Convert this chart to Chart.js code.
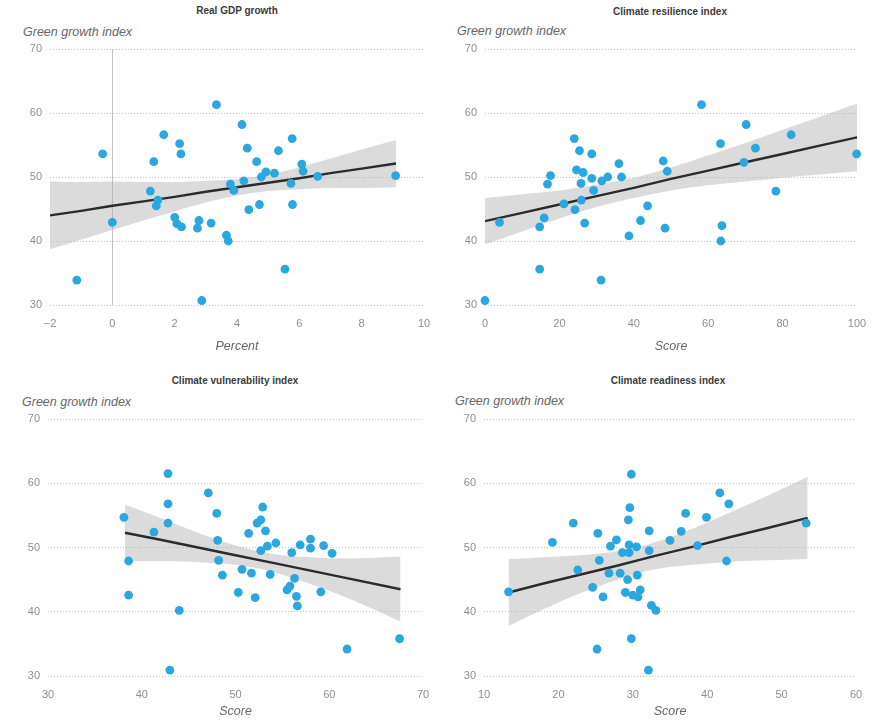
<!DOCTYPE html>
<html lang="en">
<head>
  <meta charset="UTF-8">
  <title>Green growth index and its drivers</title>
  <script src="https://cdn.jsdelivr.net/npm/chart.js"></script>
  <style>
    body { margin: 0; background: #fff; font-family: "Liberation Sans", Arial, sans-serif; }
    #wrap { position: relative; width: 887px; height: 720px; }
    canvas { position: absolute; }
    .ttl { position: absolute; font-size: 10px; line-height: 12px; font-weight: bold; color: #3a3a3a; transform: translateX(-50%); white-space: nowrap; }
    .ylab { position: absolute; font-size: 12.5px; line-height: 14px; font-style: italic; color: #666; white-space: nowrap; }
  </style>
</head>
<body>
<div id="wrap">
  <div class="ttl" style="left:237px; top:5px;">Real GDP growth</div>
  <div class="ylab" style="left:23px; top:25px;">Green growth index</div>
  <div class="ttl" style="left:670px; top:6px;">Climate resilience index</div>
  <div class="ylab" style="left:457px; top:24px;">Green growth index</div>
  <div class="ttl" style="left:235px; top:375px;">Climate vulnerability index</div>
  <div class="ylab" style="left:22px; top:395px;">Green growth index</div>
  <div class="ttl" style="left:668px; top:375px;">Climate readiness index</div>
  <div class="ylab" style="left:455px; top:394px;">Green growth index</div>

  <canvas id="c1" width="443" height="360" style="left:0; top:0;"></canvas>
  <canvas id="c2" width="444" height="360" style="left:443px; top:0;"></canvas>
  <canvas id="c3" width="443" height="360" style="left:0; top:360px;"></canvas>
  <canvas id="c4" width="444" height="360" style="left:443px; top:360px;"></canvas>
</div>

<script>
  // Real GDP growth (percent) vs green growth index
  const gdpX = [-1.14, -0.31, 0.0, 1.22, 1.33, 1.46, 1.41, 1.65, 2.0, 2.07, 2.22, 2.16, 2.2, 2.78, 2.73, 2.87,
    3.17, 3.34, 3.66, 3.72, 3.79, 3.9, 4.16, 4.22, 4.33, 4.38, 4.63, 4.72, 4.78, 4.93, 5.2, 5.33, 5.54,
    5.73, 5.77, 5.78, 6.08, 6.12, 6.59, 9.09];
  const gdpY = [33.9, 53.6, 42.9, 47.8, 52.4, 46.4, 45.5, 56.6, 43.7, 42.7, 42.2, 55.2, 53.6, 43.2, 42.0, 30.7,
    42.8, 61.3, 40.9, 40.0, 48.9, 47.9, 58.2, 49.4, 54.5, 44.9, 52.4, 45.7, 50.0, 50.8, 50.6, 54.1, 35.6,
    49.0, 56.0, 45.7, 52.0, 50.9, 50.1, 50.2];
  const gdpFitX = [-2, -1, 0, 1, 2, 3, 4, 5, 6, 7, 8, 9.1];
  const gdpFitMid = [44.0, 44.7, 45.5, 46.2, 46.9, 47.7, 48.4, 49.1, 49.8, 50.6, 51.3, 52.1];
  const gdpFitHi = [49.3, 49.2, 49.3, 49.2, 49.2, 49.4, 49.7, 50.4, 51.5, 52.9, 54.3, 55.8];
  const gdpFitLo = [38.7, 40.2, 41.7, 43.2, 44.6, 46.0, 47.1, 47.8, 48.1, 48.3, 48.3, 48.4];

  // Climate resilience index (score)
  const resX = [0, 3.9, 14.7, 15.9, 14.7, 16.8, 17.6, 21.2, 24.2, 25.9, 25.8, 26.8, 28.7, 29.2, 31.4, 33.0,
    31.2, 36.7, 38.7, 41.8, 43.7, 48.4, 49.0, 63.7, 63.4, 78.2, 24.6, 26.4, 24.0, 25.4, 28.7, 36.0, 47.9,
    58.2, 63.3, 70.2, 72.7, 69.6, 82.3, 99.9];
  const resY = [30.7, 42.9, 42.2, 43.6, 35.6, 48.9, 50.2, 45.8, 44.9, 46.4, 49.0, 42.8, 49.8, 47.9, 49.4, 50.0,
    33.9, 50.0, 40.8, 43.2, 45.5, 42.0, 50.9, 42.4, 40.0, 47.8, 51.1, 50.7, 56.0, 54.1, 53.6, 52.1, 52.5,
    61.3, 55.2, 58.2, 54.5, 52.3, 56.6, 53.6];
  const resFitX = [0, 10, 20, 30, 40, 50, 60, 70, 80, 90, 100];
  const resFitMid = [43.1, 44.4, 45.7, 47.0, 48.3, 49.7, 51.0, 52.3, 53.6, 54.9, 56.2];
  const resFitHi = [46.7, 47.3, 47.9, 48.8, 49.9, 51.5, 53.4, 55.3, 57.4, 59.4, 61.5];
  const resFitLo = [39.5, 41.5, 43.5, 45.3, 46.7, 47.9, 48.7, 49.3, 49.9, 50.4, 50.9];

  // Climate vulnerability index (score)
  const vulX = [38.6, 38.6, 41.3, 44.0, 43.0, 48.1, 48.2, 48.6, 50.3, 50.7, 51.4, 51.7, 52.1, 52.7, 53.2, 53.4,
    53.7, 54.3, 55.5, 56.0, 55.8, 56.3, 56.5, 56.6, 56.9, 58.0, 58.0, 59.1, 59.4, 60.3, 61.9, 67.5, 38.1,
    42.8, 42.8, 42.8, 47.1, 48.0, 52.9, 52.7, 52.3];
  const vulY = [47.9, 42.6, 52.4, 40.2, 30.9, 51.1, 48.0, 45.7, 43.0, 46.6, 52.2, 46.0, 42.2, 49.5, 52.6, 50.2,
    45.8, 50.7, 43.4, 49.2, 44.0, 45.2, 42.4, 40.9, 50.4, 51.3, 49.9, 43.1, 50.3, 49.1, 34.2, 35.8, 54.7,
    61.5, 56.8, 53.8, 58.5, 55.3, 56.3, 54.3, 53.8];
  const vulFitX = [38.2, 42, 46, 50, 54, 58, 62, 67.6];
  const vulFitMid = [52.3, 51.2, 50.0, 48.8, 47.6, 46.4, 45.2, 43.5];
  const vulFitHi = [56.7, 54.6, 52.3, 50.3, 49.0, 48.5, 48.3, 48.6];
  const vulFitLo = [47.9, 47.9, 47.7, 47.3, 46.2, 44.3, 42.1, 38.5];

  // Climate readiness index (score)
  const readX = [13.3, 19.2, 22.6, 24.6, 25.2, 25.5, 26.0, 26.8, 27.0, 27.8, 28.3, 28.6, 29.0, 29.3, 29.5, 29.5,
    29.8, 30.0, 30.5, 30.6, 30.7, 31.0, 32.1, 32.2, 32.2, 32.5, 33.1, 35.0, 36.5, 38.7, 42.6, 22.0, 25.3,
    29.4, 29.6, 29.8, 37.1, 39.9, 41.7, 42.9, 53.3];
  const readY = [43.1, 50.8, 46.5, 43.8, 34.2, 48.0, 42.3, 46.0, 50.2, 51.2, 46.0, 49.2, 43.0, 45.0, 50.4, 49.2,
    35.8, 42.6, 50.1, 45.7, 42.3, 43.4, 30.9, 49.5, 52.6, 41.0, 40.2, 51.1, 52.5, 50.3, 47.9, 53.8, 52.2,
    54.3, 56.2, 61.4, 55.3, 54.7, 58.5, 56.8, 53.8];
  const readFitX = [13.3, 18, 23, 28, 33, 38, 43, 48, 53.5];
  const readFitMid = [43.0, 44.4, 45.8, 47.2, 48.7, 50.1, 51.6, 53.0, 54.6];
  const readFitHi = [48.2, 48.5, 48.8, 49.4, 50.8, 52.9, 55.4, 58.0, 61.0];
  const readFitLo = [37.8, 40.4, 42.9, 45.0, 46.6, 47.3, 47.8, 48.0, 48.2];

  const yTicks = [30, 40, 50, 60, 70];

  const BLUE = '#2ba7df';
  const BAND = 'rgba(165,165,165,0.40)';
  const TICK = '#8e8e8e';
  const FONT = '"Liberation Sans", Arial, sans-serif';

  const zip = (xs, ys) => xs.map((x, i) => ({ x: x, y: ys[i] }));
  const fmt = v => v < 0 ? '\u2212' + Math.abs(v) : String(v);

  function makePanel(id, p) {
    new Chart(document.getElementById(id), {
      type: 'scatter',
      data: {
        datasets: [
          { data: zip(p.xs, p.ys), backgroundColor: BLUE, borderColor: BLUE, borderWidth: 0,
            pointRadius: 4.4, order: 0, clip: false },
          { data: zip(p.fitX, p.fitMid), showLine: true, borderColor: '#2b2b2b', borderWidth: 2.4,
            pointRadius: 0, order: 1 },
          { data: zip(p.fitX, p.fitHi), showLine: true, borderColor: 'rgba(0,0,0,0)', pointRadius: 0,
            cubicInterpolationMode: 'monotone', fill: '+1', backgroundColor: BAND, order: 2 },
          { data: zip(p.fitX, p.fitLo), showLine: true, borderColor: 'rgba(0,0,0,0)', pointRadius: 0,
            cubicInterpolationMode: 'monotone', fill: false, order: 3 }
        ]
      },
      options: {
        responsive: false,
        animation: false,
        events: [],
        layout: { padding: { left: 0, right: p.padR, top: p.padT, bottom: p.padB } },
        plugins: { legend: { display: false }, tooltip: { enabled: false } },
        scales: {
          x: {
            type: 'linear', min: p.xMin, max: p.xMax,
            afterBuildTicks: s => { s.ticks = p.xTicks.map(v => ({ value: v })); },
            ticks: { color: TICK, font: { family: FONT, size: 11 }, padding: 12, callback: fmt },
            grid: {
              display: !!p.zeroLine, drawTicks: false, lineWidth: 1,
              color: c => (c.tick && c.tick.value === 0) ? '#c2c2c2' : 'rgba(0,0,0,0)'
            },
            border: { display: false },
            title: { display: true, text: p.xTitle, color: '#666', padding: 0,
                     font: { family: FONT, size: 12.5, style: 'italic' } },
            afterFit: s => { s.height = p.xAxisH; }
          },
          y: {
            min: 30, max: 70,
            afterBuildTicks: s => { s.ticks = yTicks.map(v => ({ value: v })); },
            ticks: { color: TICK, font: { family: FONT, size: 11 }, padding: 8 },
            grid: { drawTicks: false, color: '#c6c6c6', lineWidth: 1 },
            border: { display: false, dash: [1, 2] },
            afterFit: s => { s.width = p.yAxisW; }
          }
        }
      }
    });
  }

  makePanel('c1', { xs: gdpX, ys: gdpY, fitX: gdpFitX, fitMid: gdpFitMid, fitHi: gdpFitHi, fitLo: gdpFitLo,
    xMin: -2, xMax: 10, xTicks: [-2, 0, 2, 4, 6, 8, 10], xTitle: 'Percent', zeroLine: true,
    yAxisW: 50, padR: 19, padT: 49, xAxisH: 49, padB: 6 });
  makePanel('c2', { xs: resX, ys: resY, fitX: resFitX, fitMid: resFitMid, fitHi: resFitHi, fitLo: resFitLo,
    xMin: 0, xMax: 100, xTicks: [0, 20, 40, 60, 80, 100], xTitle: 'Score',
    yAxisW: 42, padR: 30, padT: 49, xAxisH: 49, padB: 6 });
  makePanel('c3', { xs: vulX, ys: vulY, fitX: vulFitX, fitMid: vulFitMid, fitHi: vulFitHi, fitLo: vulFitLo,
    xMin: 30, xMax: 70, xTicks: [30, 40, 50, 60, 70], xTitle: 'Score',
    yAxisW: 48, padR: 20, padT: 59, xAxisH: 43, padB: 1 });
  makePanel('c4', { xs: readX, ys: readY, fitX: readFitX, fitMid: readFitMid, fitHi: readFitHi, fitLo: readFitLo,
    xMin: 10, xMax: 60, xTicks: [10, 20, 30, 40, 50, 60], xTitle: 'Score',
    yAxisW: 41, padR: 31, padT: 59, xAxisH: 43, padB: 1 });
</script>
</body>
</html>
